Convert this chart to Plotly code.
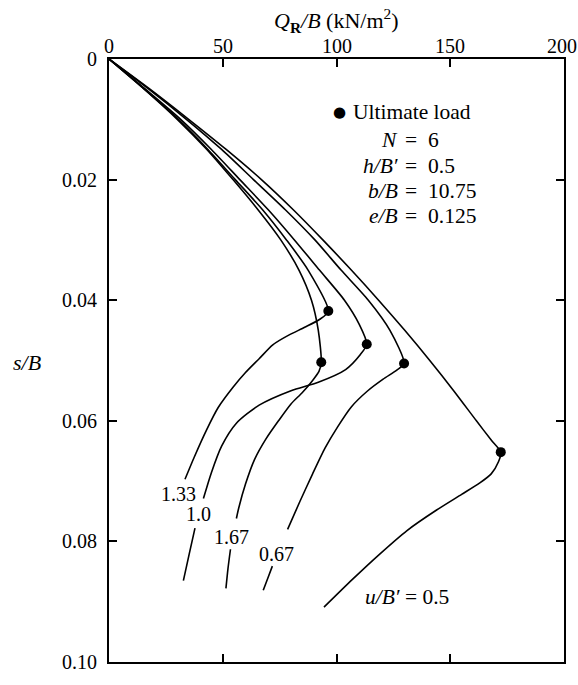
import plotly.graph_objects as go

# ---------------- data ----------------
x_tick_vals = [0, 50, 100, 150, 200]
x_tick_text = ["0", "50", "100", "150", "200"]
y_tick_vals = [0, 0.02, 0.04, 0.06, 0.08, 0.10]
y_tick_text = ["0", "0.02", "0.04", "0.06", "0.08", "0.10"]

# u/B' = 0.5
q_050 = [0, 18, 35, 51.5, 67, 81, 94, 106.5, 118.5, 130, 141, 151.5, 161.5, 168, 172.2,
         171.2, 168.0, 163.0, 155.0, 144.0, 131.0, 119.0, 107.0, 94.5]
s_050 = [0, 0.005, 0.01, 0.015, 0.02, 0.025, 0.03, 0.035, 0.04, 0.045, 0.05, 0.055, 0.06, 0.0632, 0.0652,
         0.0668, 0.0688, 0.0703, 0.0722, 0.0748, 0.0782, 0.0821, 0.0863, 0.0909]
q_050_low = []
s_050_low = []

# u/B' = 0.67
q_067 = [0, 17.5, 34, 49.5, 63.5, 77.5, 90.5, 102, 114, 123.5, 129.7,
         126.5, 120.5, 113.5, 106.5, 100.5, 95, 89.5, 84, 78.5]
s_067 = [0, 0.005, 0.01, 0.015, 0.02, 0.025, 0.03, 0.035, 0.04, 0.045, 0.0505,
         0.0516, 0.0531, 0.0551, 0.0577, 0.0610, 0.0645, 0.0688, 0.0733, 0.0780]
q_067_low = [71.8, 69.8, 67.8]
s_067_low = [0.0841, 0.0861, 0.0881]

# u/B' = 1.0
q_100 = [0, 16, 31.5, 45, 57.5, 70, 81.5, 92.5, 103.5, 110, 113.3,
         110.5, 104, 92, 80, 66, 56, 49.5, 45, 41.5]
s_100 = [0, 0.005, 0.01, 0.015, 0.02, 0.025, 0.03, 0.035, 0.04, 0.044, 0.0473,
         0.0490, 0.0515, 0.0536, 0.0550, 0.0574, 0.0604, 0.0642, 0.0686, 0.0729]
q_100_low = [37.8, 35.2, 32.7]
s_100_low = [0.0778, 0.0822, 0.0865]

# u/B' = 1.33
q_133 = [0, 15.5, 30.5, 43.5, 55.5, 67.5, 78, 87.5, 96.4,
         92.5, 86, 79, 72, 66, 60, 54.6, 48, 42.9, 37.5, 33.4]
s_133 = [0, 0.005, 0.01, 0.015, 0.02, 0.025, 0.03, 0.035, 0.0418,
         0.0432, 0.0445, 0.0458, 0.0474, 0.0497, 0.0520, 0.0544, 0.0578, 0.0615, 0.0660, 0.0697]
q_133_low = []
s_133_low = []

# u/B' = 1.67
q_167 = [0, 15.5, 30, 43, 54.5, 65.5, 75.5, 83.5, 89, 92, 93.3,
         92.3, 89.5, 85, 80, 74.5, 69, 64, 60, 57, 56]
s_167 = [0, 0.005, 0.01, 0.015, 0.02, 0.025, 0.03, 0.035, 0.04, 0.045, 0.0503,
         0.0518, 0.0533, 0.0553, 0.0572, 0.0600, 0.0630, 0.0664, 0.0705, 0.0745, 0.0762]
q_167_low = [53.4, 52.3, 51.4]
s_167_low = [0.0813, 0.0845, 0.0878]

# ultimate loads
ult_q = [172.2, 129.7, 113.3, 96.4, 93.3]
ult_s = [0.0652, 0.0505, 0.0473, 0.0418, 0.0503]

# curve labels
curve_labels = ["1.33", "1.0", "1.67", "0.67"]
curve_label_q = [30.5, 39.3, 53.9, 73.7]
curve_label_s = [0.0721, 0.0754, 0.0792, 0.0821]

# parameter block
param_lhs = ["<i>N</i>", "<i>h/B′</i>", "<i>b/B</i>", "<i>e/B</i>"]
param_rhs = ["6", "0.5", "10.75", "0.125"]

# ---------------- figure ----------------
FONT = "Liberation Serif"
BLACK = "#000000"
fig = go.Figure()

series = [
    (q_050, s_050, q_050_low, s_050_low),
    (q_067, s_067, q_067_low, s_067_low),
    (q_100, s_100, q_100_low, s_100_low),
    (q_133, s_133, q_133_low, s_133_low),
    (q_167, s_167, q_167_low, s_167_low),
]
for qu, su, ql, sl in series:
    xs = list(qu) + ([None] + list(ql) if ql else [])
    ys = list(su) + ([None] + list(sl) if sl else [])
    fig.add_trace(go.Scatter(
        x=xs, y=ys, mode="lines",
        line=dict(color=BLACK, width=1.6, shape="spline", smoothing=0.7),
        connectgaps=False, showlegend=False, hoverinfo="skip"))

fig.add_trace(go.Scatter(
    x=ult_q, y=ult_s, mode="markers",
    marker=dict(color=BLACK, size=10), showlegend=False, hoverinfo="skip"))

def txt(x, y, text, xanchor="center", xref="x", yref="y", size=20, family=FONT, xshift=0):
    return dict(x=x, y=y, xref=xref, yref=yref, text=text, showarrow=False,
                xanchor=xanchor, yanchor="middle", xshift=xshift,
                font=dict(family=family, size=size, color=BLACK))

annotations = []
# x tick labels (top)
for v, t in zip(x_tick_vals, x_tick_text):
    annotations.append(txt(v, 1.0212, t, yref="paper", xshift=(-2 if v == 200 else 0)))

for t, q, s in zip(curve_labels, curve_label_q, curve_label_s):
    annotations.append(txt(q, s, t))
annotations.append(txt(131, 0.0893, "<i>u/B′</i> = 0.5", size=21.5))

# legend-like block
annotations.append(txt(101.5, 0.0088, "●", size=15, family="DejaVu Sans"))
annotations.append(txt(106.3, 0.0088, "Ultimate load", xanchor="left", size=21.5))
row_s0 = 0.01347
row_ds = 0.00421
for i, (lhs, rhs) in enumerate(zip(param_lhs, param_rhs)):
    yy = row_s0 + i * row_ds
    annotations.append(txt(127.8, yy, lhs, xanchor="right", size=21.5))
    annotations.append(txt(132.8, yy, "=", size=21.5))
    annotations.append(txt(139.3, yy, rhs, xanchor="left", size=21.5))

# axis titles
annotations.append(txt(100, 1.0635, "<i>Q</i><sub><b>R</b></sub><i>/B</i> (kN/m<sup>2</sup>)",
                       yref="paper", size=22))
annotations.append(txt(-0.18, 0.0503, "<i>s/B</i>", xref="paper", size=22))

fig.update_layout(
    width=578, height=685,
    margin=dict(l=109, r=14, t=59, b=12),
    paper_bgcolor="white", plot_bgcolor="white",
    font=dict(family=FONT, size=20, color=BLACK),
    annotations=annotations,
    showlegend=False,
)
fig.update_xaxes(
    range=[0, 200], side="top", tickmode="array", tickvals=x_tick_vals,
    showticklabels=False,
    showgrid=False, zeroline=False, showline=True, linecolor=BLACK, linewidth=2,
    mirror="allticks", ticks="inside", ticklen=8, tickwidth=2, tickcolor=BLACK,
)
fig.update_yaxes(
    range=[0.10, 0], autorange=False, tickmode="array", tickvals=y_tick_vals, ticktext=y_tick_text,
    showgrid=False, zeroline=False, showline=True, linecolor=BLACK, linewidth=2,
    mirror="allticks", ticks="inside", ticklen=8, tickwidth=2, tickcolor=BLACK,
    tickfont=dict(family=FONT, size=20, color=BLACK), ticklabelstandoff=6,
)

fig.write_html("out.html")
